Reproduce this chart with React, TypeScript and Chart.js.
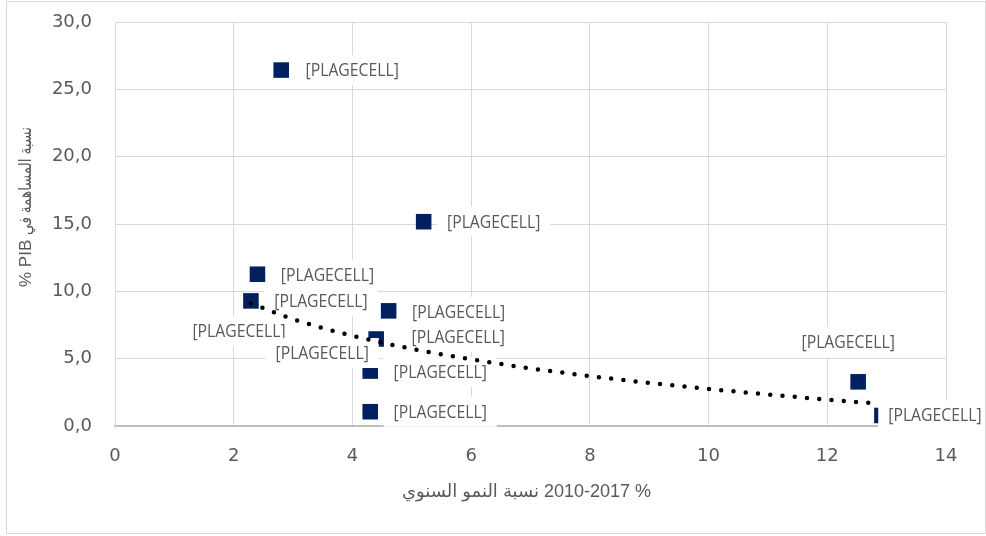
import React, { useEffect, useRef } from 'react';
import { Chart, registerables } from 'chart.js';

Chart.register(...registerables);

// ---- data ----
const pointX = [2.80, 5.20, 2.40, 2.29, 4.61, 4.40, 4.30, 4.30, 12.52, 12.92, 2.09, 3.49];
const pointY = [26.43, 15.17, 11.27, 9.29, 8.55, 6.46, 4.08, 1.06, 3.28, 0.78, 7.05, 5.42];
const pointLabels = [
  '[PLAGECELL]', '[PLAGECELL]', '[PLAGECELL]', '[PLAGECELL]',
  '[PLAGECELL]', '[PLAGECELL]', '[PLAGECELL]', '[PLAGECELL]',
  '[PLAGECELL]', '[PLAGECELL]', '[PLAGECELL]', '[PLAGECELL]',
];
// label placement relative to each marker (pixels)
const labelDX = [71, 70, 70, 70, 70, 82, 70, 70, -10, 53, 0, 0];
const labelDY = [0, 0, 1, 0, 1, -2, 1, 0, -40, 0, 0, 0];

// trend line (logarithmic)
const trendX = [2.29, 3, 4, 5, 6, 7, 8, 9, 10, 11, 12, 12.8];
const trendY = [9.10, 7.94, 6.70, 5.73, 4.95, 4.28, 3.71, 3.20, 2.75, 2.34, 1.96, 1.68];

const xTickValues = [0, 2, 4, 6, 8, 10, 12, 14];
const yTickLabels = ['0,0', '5,0', '10,0', '15,0', '20,0', '25,0', '30,0'];

const xTitle = 'نسبة النمو السنوي \u200E2010-2017 %';
const yTitleLatin = '% PIB';
const yTitleArabic = 'نسبة المساهمة في';

const TEXT_COLOR = '#595959';
const LABEL_FONT = "17.5px 'Open Sans', sans-serif";
const TITLE_FONT = "18px 'Liberation Sans', 'DejaVu Sans', sans-serif";
const YTITLE_FONT = "17px 'Liberation Sans', 'DejaVu Sans', sans-serif";

export default function App() {
  const ref = useRef<HTMLCanvasElement>(null);

  useEffect(() => {
    const canvas = ref.current;
    if (!canvas) return;

    const labelPlugin = {
      id: 'pointLabels',
      afterDatasetDraw(chart: any, args: any) {
        if (args.index !== 1) return;
        const ctx = chart.ctx;
        const meta = chart.getDatasetMeta(1);
        const sx = 0.9;
        ctx.save();
        ctx.font = LABEL_FONT;
        ctx.textAlign = 'center';
        ctx.textBaseline = 'middle';
        meta.data.forEach((el: any, i: number) => {
          const cx = el.x + labelDX[i];
          const cy = el.y + labelDY[i];
          const w = ctx.measureText(pointLabels[i]).width * sx + 20;
          const h = 30;
          ctx.fillStyle = '#ffffff';
          ctx.fillRect(cx - w / 2, cy - h / 2, w, h);
          ctx.save();
          ctx.translate(cx, cy + 1);
          ctx.scale(sx, 1);
          ctx.fillStyle = TEXT_COLOR;
          ctx.fillText(pointLabels[i], 0, 0);
          ctx.restore();
        });
        ctx.restore();
      },
    };

    const titlePlugin = {
      id: 'axisTitles',
      afterDraw(chart: any) {
        const ctx = chart.ctx;
        const a = chart.chartArea;
        ctx.save();
        ctx.fillStyle = TEXT_COLOR;
        ctx.textBaseline = 'middle';
        // x title
        ctx.font = TITLE_FONT;
        ctx.textAlign = 'center';
        ctx.fillText(xTitle, (a.left + a.right) / 2 - 4, a.bottom + 66);
        // y title (rotated, reads bottom to top)
        ctx.font = YTITLE_FONT;
        ctx.textAlign = 'left';
        ctx.translate(a.left - 89, (a.top + a.bottom) / 2 + 63);
        ctx.rotate(-Math.PI / 2);
        ctx.fillText(yTitleLatin, 0, 0);
        const w1 = ctx.measureText(yTitleLatin + ' ').width;
        const wa = ctx.measureText(yTitleArabic).width;
        const target = 108;
        ctx.translate(w1, 0);
        ctx.scale(target / wa, 1);
        ctx.fillText(yTitleArabic, 0, 0);
        ctx.restore();
      },
    };

    const chart = new Chart(canvas, {
      type: 'scatter',
      data: {
        datasets: [
          {
            label: 'trend',
            data: trendX.map((x, i) => ({ x, y: trendY[i] })),
            showLine: true,
            borderColor: '#000000',
            borderWidth: 4.5,
            borderDash: [0, 12.3],
            borderCapStyle: 'round',
            pointRadius: 0,
            fill: false,
            cubicInterpolationMode: 'monotone',
          } as any,
          {
            label: 'points',
            data: pointX.map((x, i) => ({ x, y: pointY[i] })),
            pointStyle: 'rect',
            pointRadius: 11,
            backgroundColor: '#002060',
            borderColor: '#002060',
            borderWidth: 0,
            showLine: false,
          } as any,
        ],
      },
      options: {
        responsive: false,
        animation: false,
        devicePixelRatio: 1,
        layout: { padding: { left: 0, right: 40, top: 22, bottom: 0 } },
        plugins: {
          legend: { display: false },
          tooltip: { enabled: false },
        },
        scales: {
          x: {
            type: 'linear',
            min: 0,
            max: 14,
            afterBuildTicks: (scale: any) => {
              scale.ticks = xTickValues.map((v) => ({ value: v }));
            },
            ticks: {
              color: TEXT_COLOR,
              font: { family: "'DejaVu Sans', sans-serif", size: 18 },
              padding: 0,
              callback: (v: any) => String(v),
            },
            grid: {
              color: '#d9d9d9',
              lineWidth: 1,
              drawTicks: true,
              tickLength: 20,
              tickColor: 'rgba(0,0,0,0)',
            },
            border: { display: true, color: '#bfbfbf', width: 2 },
            afterFit: (scale: any) => {
              scale.height = 110;
            },
          },
          y: {
            type: 'linear',
            min: 0,
            max: 30,
            ticks: {
              stepSize: 5,
              color: TEXT_COLOR,
              font: { family: "'DejaVu Sans', sans-serif", size: 18 },
              padding: 0,
              callback: (_v: any, idx: number) => yTickLabels[idx],
            },
            grid: {
              color: '#d9d9d9',
              lineWidth: 1,
              drawTicks: true,
              tickLength: 23,
              tickColor: 'rgba(0,0,0,0)',
            },
            border: { display: true, color: '#d9d9d9', width: 1 },
            afterFit: (scale: any) => {
              scale.width = 115;
            },
          },
        },
      } as any,
      plugins: [labelPlugin, titlePlugin],
    });

    return () => chart.destroy();
  }, []);

  return (
    <div style={{ position: 'absolute', left: 0, top: 0, width: 986, height: 536, background: '#ffffff' }}>
      <canvas
        ref={ref}
        width={986}
        height={536}
        style={{ position: 'absolute', left: 0, top: 0, width: 986, height: 536 }}
      />
      <div
        style={{
          position: 'absolute',
          left: 6,
          top: 1,
          width: 980,
          height: 533,
          border: '1px solid #d9d9d9',
          boxSizing: 'border-box',
          pointerEvents: 'none',
        }}
      />
    </div>
  );
}
